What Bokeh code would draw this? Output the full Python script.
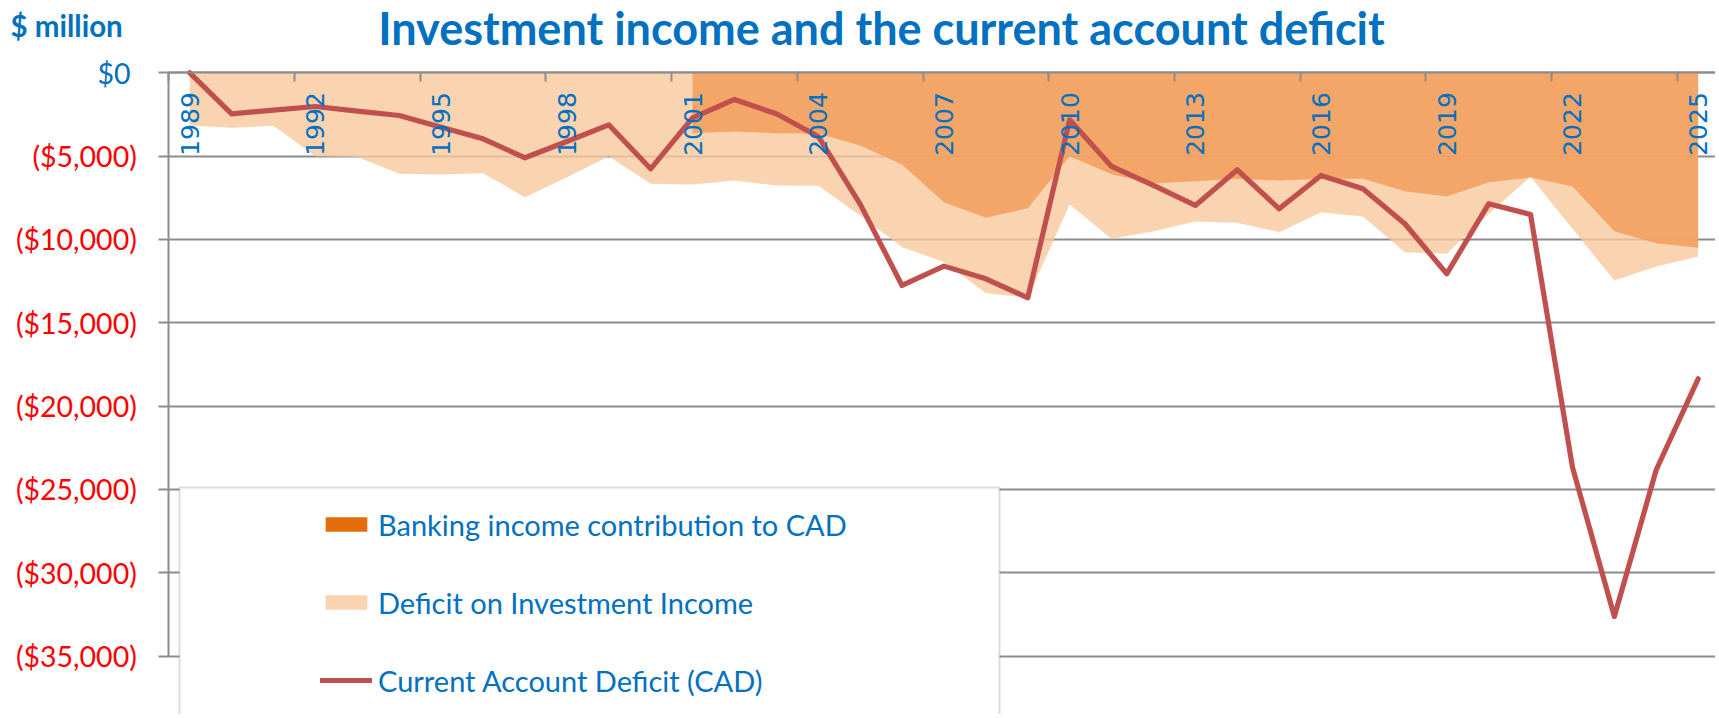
import math
from bokeh.plotting import figure
from bokeh.models import (Range1d, FixedTicker, Label, Legend, LegendItem, BoxAnnotation, Grid)
from bokeh.core.properties import value
from bokeh.embed import file_html
from bokeh.resources import INLINE

# ---------------- data ($ million) ----------------
years = list(range(1989, 2026))
cad = [0, -2460, -2240, -2020, -2300, -2560, -3260, -3960, -5100, -4120,
       -3120, -5760, -2700, -1600, -2460, -3820, -7880, -12760, -11600, -12360,
       -13500, -2820, -5620, -6760, -7960, -5820, -8160, -6160, -6960, -9060,
       -12060, -7860, -8500, -23660, -32620, -23820, -18360]
deficit = [-3160, -3300, -3180, -5000, -5050, -6060, -6100, -6020, -7460, -6260,
           -5000, -6660, -6700, -6460, -6760, -6780, -8560, -10460, -11350, -13220,
           -13500, -7900, -9960, -9500, -8920, -9000, -9560, -8360, -8620, -10760,
           -10860, -8460, -6240, -9360, -12460, -11620, -11020]
bank_years = list(range(2001, 2026))
banking = [-3620, -3520, -3620, -3640, -4360, -5500, -7760, -8700, -8120, -5000,
           -6080, -6620, -6500, -6360, -6460, -6360, -6360, -7100, -7420, -6560,
           -6280, -6820, -9500, -10220, -10500]
label_years = list(range(1989, 2026, 3))
y_ticks = [0, -5000, -10000, -15000, -20000, -25000, -30000, -35000]

title_text = "Investment income and the current account deficit"
unit_text = "$ million"
names = ["Banking income contribution to CAD", "Deficit on Investment Income",
         "Current Account Deficit (CAD)"]

# ---------------- layout (pixels) ----------------
W, H = 1715, 714
AXIS_X = 168.3        # pixel of the value axis (left edge of plot area)
ZERO_Y = 72.3         # pixel of the $0 line
PX_YEAR = 41.9        # pixels per category
PX_PER_UNIT = 83.33 / 5000.0

x_lo = years[0] - 0.5
x_start = x_lo - AXIS_X / PX_YEAR
x_end = x_lo + (W - AXIS_X) / PX_YEAR
y_end = ZERO_Y / PX_PER_UNIT
y_start = -(H - ZERO_Y) / PX_PER_UNIT

# ---------------- style ----------------
BLUE = "#0070C0"
RED = "#FF0000"
GRID = "#8C8C8C"
PEACH = "#F9C89C"
ORANGE = "#F19B56"
ORANGE_KEY = "#E46C0A"
LINE = "#C0504D"

p = figure(width=W, height=H, output_backend="svg", toolbar_location=None,
           x_range=Range1d(x_start, x_end), y_range=Range1d(y_start, y_end),
           x_axis_location="above",
           min_border_left=0, min_border_top=0, min_border_bottom=0, min_border_right=0)
p.outline_line_color = None
p.background_fill_color = "white"
p.border_fill_color = "white"

p.xgrid.visible = False
yg = p.ygrid[0]
yg.ticker = FixedTicker(ticks=y_ticks)
yg.grid_line_color = GRID
yg.grid_line_width = 2
if "cross_bounds" in Grid.properties():
    yg.cross_bounds = (x_lo, x_end)
else:
    p.add_layout(BoxAnnotation(right=x_lo, fill_color="white", fill_alpha=1,
                               line_alpha=0, level="underlay"))

xa = p.xaxis[0]
xa.fixed_location = 0
xa.bounds = (x_lo, x_end)
xa.ticker = FixedTicker(ticks=[y - 0.5 for y in label_years])
xa.major_tick_in = 9
xa.major_tick_out = 0
xa.minor_tick_line_color = None
xa.major_label_text_color = None
xa.major_label_standoff = 0
xa.axis_line_color = GRID
xa.axis_line_width = 2
xa.major_tick_line_color = GRID
xa.major_tick_line_width = 2

ya = p.yaxis[0]
ya.fixed_location = x_lo
ya.bounds = (y_ticks[-1], 0)
ya.ticker = FixedTicker(ticks=y_ticks)
ya.major_label_overrides = {t: ("" if t == 0 else "(${:,})".format(abs(t))) for t in y_ticks}
ya.major_label_text_font = "Lato"
ya.major_label_text_font_size = "28.5px"
ya.major_label_text_color = RED
ya.major_tick_in = 0
ya.major_tick_out = 10
ya.major_label_standoff = 22
ya.minor_tick_line_color = None
ya.axis_line_color = GRID
ya.axis_line_width = 2
ya.major_tick_line_color = GRID
ya.major_tick_line_width = 2

# ---------------- glyphs ----------------
r_def = p.varea(x=years, y1=[0] * len(years), y2=deficit, fill_color=PEACH, fill_alpha=0.8)
p.varea(x=bank_years, y1=[0] * len(bank_years), y2=banking, fill_color=ORANGE, fill_alpha=0.8)
# legend key for the banking series (solid darker orange, zero-height so not seen in plot)
r_key = p.varea(x=bank_years, y1=[0] * len(bank_years), y2=[0] * len(bank_years),
                fill_color=ORANGE_KEY, fill_alpha=1.0)
r_cad = p.line(years, cad, line_color=LINE, line_width=5.2, line_join="round", line_cap="round")

p.text(x=label_years, y=[0] * len(label_years), text=[str(y) for y in label_years],
       angle=math.pi / 2, text_align="left", text_baseline="middle", y_offset=83,
       text_font=value("DejaVu Sans"), text_font_size="25px", text_color=BLUE)

# ---------------- texts (screen units: from left / bottom of canvas) ----------------
p.add_layout(Label(x=881, y=H - 27, x_units="screen", y_units="screen", text=title_text,
                   text_align="center", text_baseline="middle", text_font="Lato",
                   text_font_style="bold", text_font_size="45px", text_color=BLUE))
p.add_layout(Label(x=10, y=H - 25, x_units="screen", y_units="screen", text=unit_text,
                   text_align="left", text_baseline="middle", text_font="Lato",
                   text_font_style="bold", text_font_size="29.5px", text_color=BLUE))
p.add_layout(Label(x=130, y=H - ZERO_Y, x_units="screen", y_units="screen", text="$0",
                   text_align="right", text_baseline="middle", text_font="Lato",
                   text_font_size="28.5px", text_color=BLUE))

# ---------------- legend ----------------
box = BoxAnnotation(left=179, right=999, top=H - 487, bottom=-30,
                    left_units="screen", right_units="screen",
                    top_units="screen", bottom_units="screen",
                    fill_color="white", fill_alpha=1.0,
                    line_color=GRID, line_width=2)
p.add_layout(box)

legend = Legend(items=[LegendItem(label=names[0], renderers=[r_key]),
                       LegendItem(label=names[1], renderers=[r_def]),
                       LegendItem(label=names[2], renderers=[r_cad])],
                location=(320, H - 700), orientation="vertical", padding=0, margin=0,
                spacing=38, glyph_width=52, glyph_height=18, label_height=40,
                label_standoff=6, label_text_font="Lato", label_text_font_size="29px",
                label_text_color=BLUE, border_line_alpha=0, background_fill_alpha=0)
p.add_layout(legend)

open("out.html", "w").write(file_html(p, INLINE))
